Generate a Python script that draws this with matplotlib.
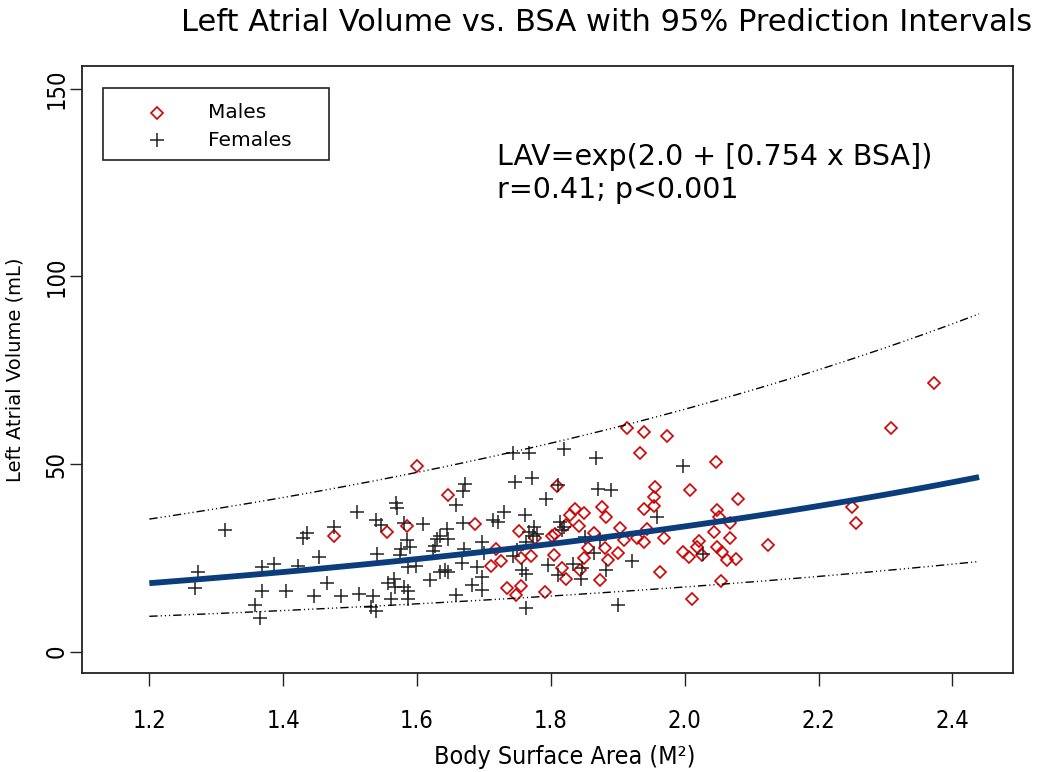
import matplotlib
matplotlib.use("Agg")
import matplotlib.pyplot as plt
import numpy as np
from matplotlib.patches import Rectangle

# regression: LAV = exp(a + b*BSA), 95% prediction band on log scale
coef_a = 2.0
coef_b = 0.754
pi_half = 0.66
bsa_from = 1.2
bsa_to = 2.44

# males (diamonds)
male_bsa = [1.476, 1.600, 1.646, 1.555, 1.585, 1.687, 1.752, 1.718, 1.756, 1.711, 1.725, 1.734, 1.755, 1.748,
            1.914, 1.939, 1.974, 1.933, 1.809, 1.955, 1.954, 1.954, 1.836, 1.850, 1.829, 1.876, 1.883, 1.939,
            1.777, 1.822, 1.842, 1.801, 1.806, 1.865, 1.904, 1.909, 1.944, 1.939, 1.929, 1.855, 1.881, 1.901,
            1.850, 1.770, 1.804, 1.816, 1.822, 1.844, 1.886, 1.874, 1.963, 1.791,
            2.047, 2.008, 2.079, 2.049, 2.051, 2.068, 2.044, 1.969, 2.067, 2.022, 2.019, 2.125, 1.998, 2.007,
            2.026, 2.049, 2.056, 2.063, 2.077, 2.054, 2.011,
            2.309, 2.250, 2.256, 2.372]
male_lav = [30.9, 49.4, 41.7, 31.9, 33.5, 33.9, 32.1, 27.3, 24.9, 22.8, 24.2, 17.0, 17.6, 15.1,
            59.7, 58.4, 57.4, 52.9, 44.1, 43.9, 41.1, 38.9, 38.0, 37.0, 36.4, 38.6, 35.9, 37.9,
            30.2, 33.7, 33.5, 30.8, 31.3, 31.5, 32.9, 29.7, 32.6, 29.1, 30.2, 27.5, 27.7, 26.4,
            24.9, 25.6, 25.7, 22.2, 19.3, 21.8, 24.4, 19.1, 21.3, 16.0,
            50.6, 43.1, 40.8, 37.7, 35.8, 34.2, 31.9, 30.2, 30.4, 29.6, 28.0, 28.4, 26.6, 25.3,
            25.7, 28.0, 26.6, 24.4, 24.8, 18.8, 14.0,
            59.5, 38.5, 34.3, 71.6]

# females (crosses)
female_bsa = [1.313, 1.435, 1.429, 1.476, 1.454, 1.273, 1.368, 1.386, 1.422, 1.268, 1.368, 1.404, 1.465,
              1.446, 1.486, 1.358, 1.365,
              1.672, 1.669, 1.746, 1.568, 1.570, 1.659, 1.511, 1.730, 1.539, 1.546, 1.581, 1.609, 1.668,
              1.713, 1.721, 1.762, 1.645, 1.635, 1.630, 1.647, 1.585, 1.576, 1.590, 1.540, 1.575, 1.624,
              1.627, 1.670, 1.697, 1.700, 1.763, 1.667, 1.689, 1.587, 1.599, 1.635, 1.642, 1.647, 1.620,
              1.697, 1.566, 1.557, 1.567, 1.581, 1.586, 1.682, 1.697, 1.514, 1.534, 1.561, 1.587, 1.658,
              1.763, 1.532, 1.539,
              1.743, 1.768, 1.819, 1.868, 1.772, 1.810, 1.871, 1.890, 1.793, 1.958, 1.775, 1.767, 1.773,
              1.780, 1.814, 1.820, 1.816, 1.851, 1.874, 1.864, 1.749, 1.743, 1.796, 1.833, 1.810, 1.846,
              1.845, 1.883, 1.921, 1.757, 1.763, 1.901,
              1.997, 2.027]
female_lav = [32.4, 31.7, 30.2, 33.3, 25.3, 21.3, 22.6, 23.3, 22.8, 16.9, 16.2, 16.2, 18.2,
              14.9, 14.8, 12.4, 8.9,
              44.8, 42.8, 45.3, 39.7, 38.3, 39.1, 37.3, 37.3, 35.1, 33.7, 34.2, 33.9, 34.2,
              35.1, 34.5, 36.4, 32.6, 30.8, 29.9, 29.9, 29.7, 27.3, 28.0, 25.9, 25.7, 26.9,
              28.1, 27.3, 29.3, 26.2, 29.3, 23.7, 22.6, 22.6, 22.8, 21.3, 21.9, 21.3, 19.1,
              20.0, 19.5, 18.2, 17.3, 17.3, 16.2, 17.9, 16.4, 15.3, 14.8, 14.0, 14.0, 15.1,
              11.6, 12.0, 10.8,
              53.0, 52.8, 54.0, 51.7, 46.4, 44.4, 43.3, 43.2, 40.7, 35.9, 33.3, 31.9, 30.8,
              31.3, 34.6, 33.3, 32.4, 30.5, 29.7, 26.2, 27.1, 25.5, 23.1, 23.3, 20.4, 22.2,
              19.5, 21.9, 24.2, 21.8, 20.7, 12.4,
              49.4, 26.0]

x_ticks = [1.2, 1.4, 1.6, 1.8, 2.0, 2.2, 2.4]
y_ticks = [0, 50, 100, 150]

plt.rcParams['font.family'] = ['DejaVu Sans']
cond = dict(family=['DejaVu Sans'], fontstretch='condensed')

fig = plt.figure(figsize=(10.5, 7.72), dpi=100)
ax = fig.add_axes([0.0781, 0.1282, 0.8867, 0.7863])

ax.plot(male_bsa, male_lav, linestyle='none', marker='D', ms=6.4, mfc='none',
        mec='#d40000', mew=1.2)
ax.plot(female_bsa, female_lav, linestyle='none', marker='+', ms=10,
        color='#222222', mew=1.1)

bsa_line = np.linspace(bsa_from, bsa_to, 120)
fit = np.exp(coef_a + coef_b * bsa_line)
dashdot3 = (0, (6, 2.2, 0.8, 2.2, 0.8, 2.2, 0.8, 2.2))
ax.plot(bsa_line, fit * np.exp(pi_half), color='black', lw=1.0, linestyle=dashdot3)
ax.plot(bsa_line, fit * np.exp(-pi_half), color='black', lw=1.0, linestyle=dashdot3)
ax.plot(bsa_line, fit, color='#0b3d7c', lw=4.2, solid_capstyle='butt')

ax.set_xlim(1.0994, 2.4907)
ax.set_ylim(-5.67, 156.0)
ax.set_xticks(x_ticks)
ax.set_xticklabels(['%.1f' % t for t in x_ticks], fontsize=17, **cond)
ax.set_yticks(y_ticks)
ax.set_yticklabels([str(t) for t in y_ticks], fontsize=17, rotation=90,
                   va='center', **cond)
ax.tick_params(axis='both', direction='out', length=9, width=1.0, color='#222222')
ax.tick_params(axis='x', pad=17)
ax.tick_params(axis='y', pad=0.5)
for s in ax.spines.values():
    s.set_linewidth(1.3)
    s.set_color('#222222')

ax.set_xlabel('Body Surface Area (M²)', fontsize=18, va='center', **cond)
ax.xaxis.set_label_coords(0.519, -0.138)
ax.set_ylabel('Left Atrial Volume (mL)', fontsize=14, va='center')
ax.yaxis.set_label_coords(-0.072, 0.5)

# legend box
ax.add_patch(Rectangle((0.0226, 0.8452), 0.243, 0.1186, transform=ax.transAxes,
                       fill=False, lw=1.2, ec='#222222'))
ax.plot([0.0806], [0.9226], transform=ax.transAxes, marker='D', ms=6.4, mfc='none',
        mec='#d40000', mew=1.2, linestyle='none')
ax.plot([0.0806], [0.878], transform=ax.transAxes, marker='+', ms=10,
        color='#222222', mew=1.1, linestyle='none')
ax.text(0.1353, 0.9226, 'Males', transform=ax.transAxes, fontsize=14.5, va='center')
ax.text(0.1353, 0.878, 'Females', transform=ax.transAxes, fontsize=14.5, va='center')

ax.text(0.4458, 0.850, 'LAV=exp(2.0 + [0.754 x BSA])', transform=ax.transAxes,
        fontsize=20.5, va='center')
ax.text(0.4458, 0.796, 'r=0.41; p<0.001', transform=ax.transAxes,
        fontsize=20.5, va='center')

fig.text(0.578, 0.9715, 'Left Atrial Volume vs. BSA with 95% Prediction Intervals',
         ha='center', va='center', fontsize=22)

fig.savefig('out.png', dpi=100)
